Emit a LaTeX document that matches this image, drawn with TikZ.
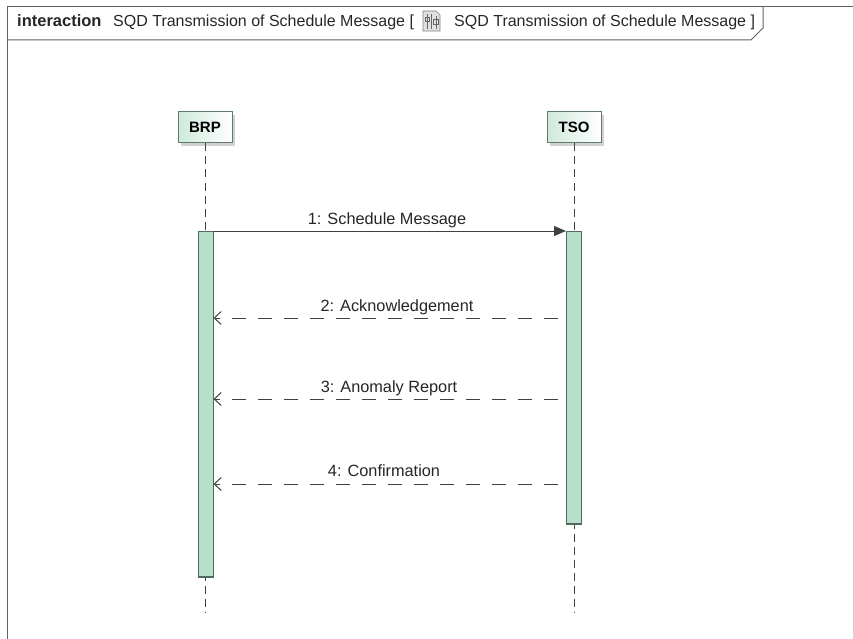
\documentclass[tikz,border=0pt]{standalone}
\usepackage{fontspec}
\setmainfont{Liberation Sans}
\usetikzlibrary{arrows.meta,shadows}
\definecolor{framegray}{HTML}{606060}
\definecolor{lifefill}{HTML}{CFE9DC}
\definecolor{lifeborder}{HTML}{5E7B6C}
\definecolor{actfill}{HTML}{B8DFCB}
\definecolor{actborder}{HTML}{4E6C5E}
\definecolor{msgcol}{HTML}{404040}
\tikzset{
  lifebox/.style={draw=lifeborder, line width=1pt, left color=lifefill, right color=white,
    minimum width=54pt, minimum height=31pt, inner sep=0pt,
    font=\fontsize{15}{18}\selectfont\bfseries,
    drop shadow={shadow xshift=3pt, shadow yshift=-3pt, fill=black!18, opacity=1}},
  actbox/.style={draw=actborder, fill=actfill, line width=1pt, minimum width=15pt, inner sep=0pt, anchor=north},
  lifeline/.style={draw=msgcol, line width=0.9pt, dash pattern=on 8pt off 5pt},
  syncmsg/.style={draw=msgcol, line width=1pt, -{Triangle[length=12pt,width=10pt]}},
  replymsg/.style={draw=msgcol, line width=1pt, dash pattern=on 14pt off 12pt, -{Straight Barb[length=7pt,width=13pt]}},
  msglabel/.style={font=\fontsize{16.3}{19}\selectfont, text=black!85, inner sep=0pt, anchor=base},
  titletext/.style={font=\fontsize{16}{18}\selectfont, text=black!85, inner sep=0pt, anchor=base west}
}
\begin{document}
\begin{tikzpicture}[x=1pt,y=-1pt]
\useasboundingbox (0,0) rectangle (853,639);
% frame
\draw[framegray, line width=1pt] (853,7) -- (7,7) -- (7,639);
\draw[framegray, line width=1pt] (7,40) -- (751,40) -- (763,28) -- (763,7);
\node[titletext, font=\fontsize{16.5}{18}\selectfont\bfseries] (kw) at (17,27) {interaction};
\node[titletext] (t1) at (113,27) {SQD Transmission of Schedule Message [};
% icon
\draw[draw=black!50, fill=black!12, line width=0.6pt] (423,11) -- (436,11) -- (440,15) -- (440,31) -- (423,31) -- cycle;
\draw[black!60, line width=0.6pt] (427,14) -- (427,29) (431,14) -- (431,29) (436,16) -- (436,29);
\draw[black!60, line width=0.6pt] (425,17) rectangle (429,21) (433,19) rectangle (438,24);
\node[titletext] (t2) at (454,27) {SQD Transmission of Schedule Message ]};
% lifelines
\node[lifebox] (brp) at (205,127.5) {BRP};
\node[lifebox] (tso) at (574,127.5) {TSO};
\coordinate (brpend) at (205,612);
\coordinate (tsoend) at (574,612);
\draw[lifeline] (brp.south) -- (brpend);
\draw[lifeline] (tso.south) -- (tsoend);
% activations
\node[actbox, minimum height=345pt] (brpact) at (205.5,231) {};
\node[actbox, minimum height=292pt] (tsoact) at (574,231) {};
\draw[actborder, line width=2pt] (brpact.south west) -- (brpact.south east);
\draw[actborder, line width=2pt] (tsoact.south west) -- (tsoact.south east);
% messages
\coordinate (m2) at (0,318);
\coordinate (m3) at (0,399);
\coordinate (m4) at (0,484);
\draw[syncmsg] (brpact.north east) -- (tsoact.north west);
\draw[replymsg, shorten <=8pt] (tsoact.west |- m2) -- (brpact.east |- m2);
\draw[replymsg, shorten <=8pt] (tsoact.west |- m3) -- (brpact.east |- m3);
\draw[replymsg, shorten <=8pt] (tsoact.west |- m4) -- (brpact.east |- m4);
\node[msglabel] (l1) at (387,224) {1: Schedule Message};
\node[msglabel] (l2) at (397,311) {2: Acknowledgement};
\node[msglabel] (l3) at (389,392) {3: Anomaly Report};
\node[msglabel] (l4) at (384,476) {4: Confirmation};
\end{tikzpicture}
\end{document}
